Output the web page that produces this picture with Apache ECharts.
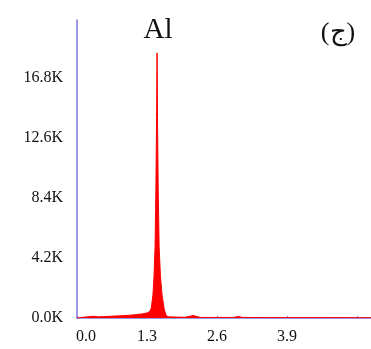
<!DOCTYPE html>
<html>
<head>
<meta charset="utf-8">
<script src="https://cdn.jsdelivr.net/npm/echarts@6/dist/echarts.min.js"></script>
<style>
    html, body { margin: 0; padding: 0; background: #fff; }
    #chart { width: 371px; height: 349px; }
</style>
</head>
<body>
<div id="chart"></div>
<script>
// 能谱数据：能量 (keV) 与计数 (K)
const energy = [0.0, 0.1, 0.3, 0.4, 0.5, 0.8, 1.0, 1.2, 1.3, 1.35, 1.38, 1.41, 1.43, 1.45, 1.465, 1.478, 1.487, 1.495, 1.508, 1.525, 1.55, 1.58, 1.62, 1.66, 1.7, 2.0, 2.1, 2.16, 2.22, 2.3, 2.9, 2.99, 3.08, 3.5, 5.46];
const counts = [0.0, 0.05, 0.12, 0.08, 0.1, 0.15, 0.2, 0.28, 0.35, 0.45, 0.7, 1.6, 2.9, 5, 9, 14, 18.5, 14, 9, 5, 2.9, 1.6, 0.6, 0.15, 0.08, 0.05, 0.12, 0.18, 0.1, 0.04, 0.04, 0.1, 0.04, 0.03, 0.02];
const xTicks = [0, 1.3, 2.6, 3.9];
const yTicks = [0, 4.2, 8.4, 12.6, 16.8];

const axisColor = '#7878dc';
const serif = '"Liberation Serif", "DejaVu Serif", serif';

const chart = echarts.init(document.getElementById('chart'));

chart.setOption({
    animation: false,
    grid: { left: 77, right: 0, top: 20, bottom: 31 },
    xAxis: {
        type: 'value',
        min: 0,
        max: 5.46,
        interval: 1.3,
        splitLine: { show: false },
        axisLine: { lineStyle: { color: axisColor, width: 1.5 } },
        axisTick: { show: true, inside: true, length: 2, lineStyle: { color: axisColor } },
        axisLabel: {
            color: '#111',
            fontFamily: serif,
            fontSize: 16,
            margin: 11,
            showMaxLabel: false,
            formatter: (v) => {
                if (!xTicks.some(t => Math.abs(t - v) < 1e-6)) return '';
                // 0.0 标签在原图中偏右
                return v === 0 ? '{a|0.0}' : v.toFixed(1);
            },
            rich: { a: { fontFamily: serif, fontSize: 16, color: '#111', padding: [0, 0, 0, 18] } }
        }
    },
    yAxis: {
        type: 'value',
        min: 0,
        max: 20.8,
        interval: 4.2,
        splitLine: { show: false },
        axisLine: { show: true, lineStyle: { color: axisColor, width: 1.5 } },
        axisTick: { show: false },
        axisLabel: {
            color: '#111',
            fontFamily: serif,
            fontSize: 16,
            margin: 14,
            formatter: (v) => yTicks.some(t => Math.abs(t - v) < 1e-6) ? v.toFixed(1) + 'K' : ''
        }
    },
    graphic: [
        {
            type: 'text', x: 158, y: 30,
            style: { text: 'Al', font: '29px ' + serif, fill: '#111', align: 'center', verticalAlign: 'middle' }
        },
        {
            type: 'text', x: 338, y: 33,
            style: { text: '(ج)', font: '26px ' + serif, fill: '#111', align: 'center', verticalAlign: 'middle' }
        }
    ],
    series: [
        {
            type: 'line',
            data: energy.map((e, i) => [e, counts[i]]),
            showSymbol: false,
            lineStyle: { color: '#ff0000', width: 1 },
            areaStyle: { color: '#ff0000', opacity: 1 }
        }
    ]
});
</script>
</body>
</html>
